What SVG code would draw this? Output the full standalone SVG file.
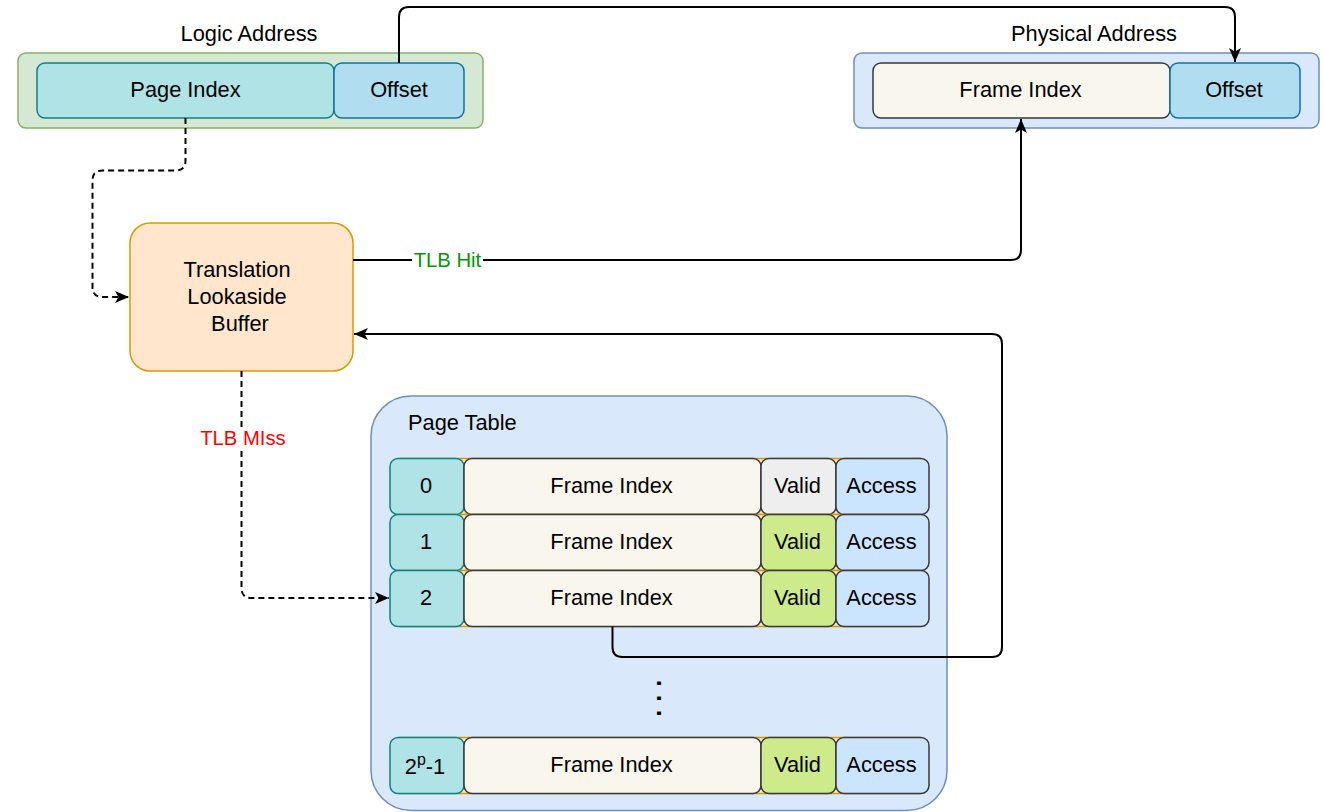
<svg xmlns="http://www.w3.org/2000/svg" width="1324" height="812" viewBox="0 0 1324 812">
<defs>
<style>
text{font-family:"Liberation Sans",Arial,Helvetica,sans-serif;font-size:21.8px;fill:#000;text-anchor:middle}
.lbl{font-size:20.25px}
.b{stroke-width:1.5}
.idx{fill:#b0e3e6;stroke:#0e8088;stroke-width:1.5}
.fi{fill:#f9f7ed;stroke:#36393d;stroke-width:1.5}
.vg{fill:#cdeb8b;stroke:#36393d;stroke-width:1.5}
.vn{fill:#eeeeee;stroke:#36393d;stroke-width:1.5}
.ac{fill:#cce5ff;stroke:#36393d;stroke-width:1.5}
.rowbg{fill:#ffe6cc;stroke:#d79b00;stroke-width:1.5}
.off{fill:#b1ddf0;stroke:#10739e;stroke-width:1.5}
.edge{fill:none;stroke:#000;stroke-width:2}
.dash{stroke-dasharray:6 4}
</style>
<marker id="arr" markerUnits="userSpaceOnUse" markerWidth="16" markerHeight="14" refX="14" refY="6" orient="auto">
<path d="M0,0 L14,6 L0,12 L3.5,6 Z" fill="#000"/>
</marker>
</defs>

<g id="logic-address">
<rect x="18" y="53" width="465" height="75" rx="8" fill="#d5e8d4" stroke="#82b366" class="b"/>
<text x="249" y="40.5">Logic Address</text>
<rect id="page-index" x="37" y="63" width="297" height="55" rx="8" class="idx"/>
<text x="185.5" y="96.5">Page Index</text>
<rect id="logic-offset" x="334" y="63" width="130" height="55" rx="8" class="off"/>
<text x="399" y="96.5">Offset</text>
</g>

<g id="physical-address">
<rect x="854" y="53" width="465" height="75" rx="8" fill="#dae8fc" stroke="#6c8ebf" class="b"/>
<text x="1094" y="40.5">Physical Address</text>
<rect id="phys-frame-index" x="873" y="63" width="297" height="55" rx="8" class="fi"/>
<text x="1020.5" y="96.5">Frame Index</text>
<rect id="phys-offset" x="1170" y="63" width="130" height="55" rx="8" class="off"/>
<text x="1234" y="96.5">Offset</text>
</g>

<g id="tlb">
<rect x="130" y="223" width="223" height="148" rx="20" fill="#ffe6cc" stroke="#d79b00" class="b"/>
<text x="237" y="276.5">Translation</text>
<text x="237" y="303.5">Lookaside</text>
<text x="240" y="330.5">Buffer</text>
</g>

<g id="page-table">
<rect x="371" y="396" width="576" height="414.5" rx="40" fill="#dae8fc" stroke="#6c8ebf" class="b"/>
<text x="408" y="429.5" style="text-anchor:start">Page Table</text>

<g id="row-0">
<rect x="400" y="458.5" width="520" height="56" class="rowbg"/>
<rect x="390" y="458.5" width="74" height="56" rx="8" class="idx"/>
<rect x="464" y="458.5" width="297" height="56" rx="8" class="fi"/>
<rect x="761" y="458.5" width="75" height="56" rx="8" class="vn"/>
<rect x="836" y="458.5" width="93" height="56" rx="8" class="ac"/>
<text x="426" y="493">0</text>
<text x="611.5" y="493">Frame Index</text>
<text x="797.5" y="493">Valid</text>
<text x="881.5" y="493">Access</text>
</g>
<g id="row-1">
<rect x="400" y="514.5" width="520" height="56" class="rowbg"/>
<rect x="390" y="514.5" width="74" height="56" rx="8" class="idx"/>
<rect x="464" y="514.5" width="297" height="56" rx="8" class="fi"/>
<rect x="761" y="514.5" width="75" height="56" rx="8" class="vg"/>
<rect x="836" y="514.5" width="93" height="56" rx="8" class="ac"/>
<text x="426" y="549">1</text>
<text x="611.5" y="549">Frame Index</text>
<text x="797.5" y="549">Valid</text>
<text x="881.5" y="549">Access</text>
</g>
<g id="row-2">
<rect x="400" y="570.5" width="520" height="56" class="rowbg"/>
<rect x="390" y="570.5" width="74" height="56" rx="8" class="idx"/>
<rect x="464" y="570.5" width="297" height="56" rx="8" class="fi"/>
<rect x="761" y="570.5" width="75" height="56" rx="8" class="vg"/>
<rect x="836" y="570.5" width="93" height="56" rx="8" class="ac"/>
<text x="426" y="605">2</text>
<text x="611.5" y="605">Frame Index</text>
<text x="797.5" y="605">Valid</text>
<text x="881.5" y="605">Access</text>
</g>
<text id="ellipsis" x="0" y="0" transform="translate(657.1,678.3) rotate(90)" style="font-size:36px;text-anchor:start;letter-spacing:5px">...</text>
<g id="row-last">
<rect x="400" y="737.5" width="520" height="56" class="rowbg"/>
<rect x="390" y="737.5" width="74" height="56" rx="8" class="idx"/>
<rect x="464" y="737.5" width="297" height="56" rx="8" class="fi"/>
<rect x="761" y="737.5" width="75" height="56" rx="8" class="vg"/>
<rect x="836" y="737.5" width="93" height="56" rx="8" class="ac"/>
<text x="425" y="774">2<tspan dy="-9" style="font-size:16px">p</tspan><tspan dy="9">-1</tspan></text>
<text x="611.5" y="772">Frame Index</text>
<text x="797.5" y="772">Valid</text>
<text x="881.5" y="772">Access</text>
</g>
</g>

<g id="connectors">
<path class="edge" d="M399,63 V17 Q399,7 409,7 H1225 Q1235,7 1235,17 V62" marker-end="url(#arr)"/>
<path class="edge dash" d="M185.5,118 V160.5 Q185.5,170.5 175.5,170.5 H102.5 Q92.5,170.5 92.5,180.5 V287 Q92.5,297 102.5,297 H129" marker-end="url(#arr)"/>
<path class="edge" d="M353,260 H1011 Q1021,260 1021,250 V119" marker-end="url(#arr)"/>
<path class="edge" d="M612.5,626.5 V647 Q612.5,657 622.5,657 H992 Q1002,657 1002,647 V344 Q1002,334 992,334 H354" marker-end="url(#arr)"/>
<path class="edge dash" d="M241.5,371 V588 Q241.5,598 251.5,598 H389" marker-end="url(#arr)"/>
<rect x="412" y="250" width="71" height="20" fill="#fff"/>
<text x="447.5" y="266.5" class="lbl" style="fill:#009900">TLB Hit</text>
<rect x="198" y="428" width="90" height="20" fill="#fff"/>
<text x="243" y="444.5" class="lbl" style="fill:#ff0000">TLB MIss</text>
</g>
</svg>
